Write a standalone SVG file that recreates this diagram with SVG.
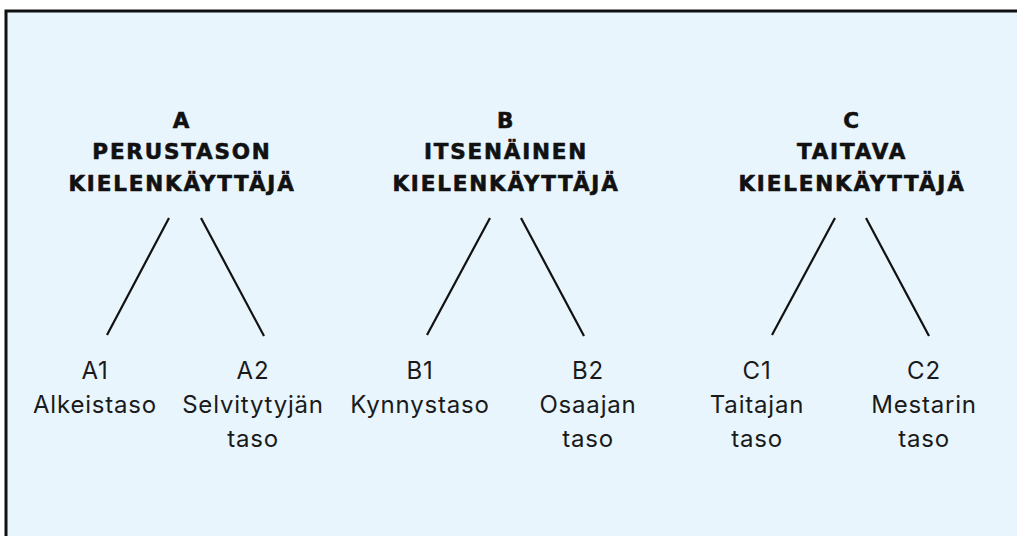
<svg xmlns="http://www.w3.org/2000/svg" width="1017" height="536" viewBox="0 0 1017 536">
<style>
.h{font-family:"DejaVu Sans","Open Sans",sans-serif;font-weight:bold;font-size:21.5px;letter-spacing:1.8px;fill:#111;stroke:#111;stroke-width:0.6;stroke-linejoin:round;text-anchor:middle}
.t{font-family:"Inter","Liberation Sans",sans-serif;font-size:24px;letter-spacing:0.8px;fill:#1a1a1a;text-anchor:middle}
.c line{stroke:#111;stroke-width:2.2;stroke-linecap:butt}
</style>
<rect x="0" y="0" width="1017" height="536" fill="#ffffff"/>
<rect x="6" y="11" width="1020" height="535" fill="#e8f5fd" stroke="#111" stroke-width="3"/>
<g id="nodeA"><text class="h" x="182" y="128">A</text><text class="h" x="182" y="159">PERUSTASON</text><text class="h" x="182" y="191">KIELENKÄYTTÄJÄ</text></g>
<g id="nodeB"><text class="h" x="506" y="128">B</text><text class="h" x="506" y="159">ITSENÄINEN</text><text class="h" x="506" y="191">KIELENKÄYTTÄJÄ</text></g>
<g id="nodeC"><text class="h" x="852" y="128">C</text><text class="h" x="852" y="159">TAITAVA</text><text class="h" x="852" y="191">KIELENKÄYTTÄJÄ</text></g>
<g id="nodeA1"><text class="t" x="95" y="379">A1</text><text class="t" x="95" y="413">Alkeistaso</text></g>
<g id="nodeA2"><text class="t" x="253" y="379">A2</text><text class="t" x="253" y="413">Selvitytyjän</text><text class="t" x="253" y="447">taso</text></g>
<g id="nodeB1"><text class="t" x="420" y="379">B1</text><text class="t" x="420" y="413">Kynnystaso</text></g>
<g id="nodeB2"><text class="t" x="588" y="379">B2</text><text class="t" x="588" y="413">Osaajan</text><text class="t" x="588" y="447">taso</text></g>
<g id="nodeC1"><text class="t" x="757" y="379">C1</text><text class="t" x="757" y="413">Taitajan</text><text class="t" x="757" y="447">taso</text></g>
<g id="nodeC2"><text class="t" x="924" y="379">C2</text><text class="t" x="924" y="413">Mestarin</text><text class="t" x="924" y="447">taso</text></g>
<g id="connectors" class="c">
<line x1="169" y1="218" x2="107" y2="335"/><line x1="201" y1="218" x2="264" y2="336"/>
<line x1="490" y1="218" x2="427" y2="335"/><line x1="521" y1="218" x2="584" y2="336"/>
<line x1="835" y1="218" x2="772" y2="335"/><line x1="866" y1="218" x2="929" y2="336"/>
</g>
</svg>
